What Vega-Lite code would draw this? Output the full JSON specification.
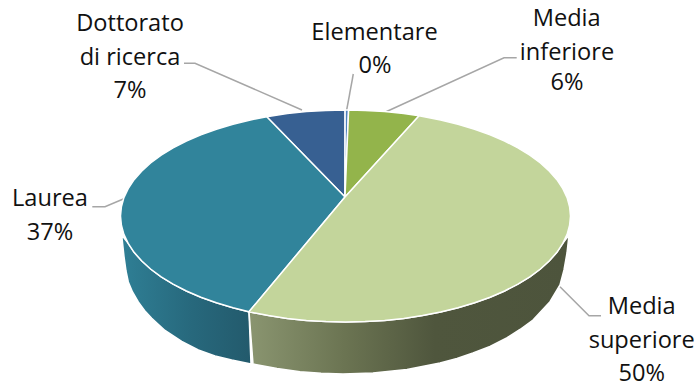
{
  "$schema": "https://vega.github.io/schema/vega-lite/v6.json",
  "width": 695,
  "height": 387,
  "padding": 0,
  "autosize": {"type": "fit", "contains": "padding"},
  "background": "white",
  "config": {"view": {"stroke": null}},
  "datasets": {
    "spicchi": [
      {"categoria":"Dottorato di ricerca","ord":0,"x":0,"y":0},
      {"categoria":"Dottorato di ricerca","ord":1,"x":0.1,"y":87},
      {"categoria":"Dottorato di ricerca","ord":2,"x":-19.1,"y":86.6},
      {"categoria":"Dottorato di ricerca","ord":3,"x":-38.6,"y":85.4},
      {"categoria":"Dottorato di ricerca","ord":4,"x":-57.7,"y":83.4},
      {"categoria":"Dottorato di ricerca","ord":5,"x":-78.3,"y":80.3},
      {"categoria":"Elementare","ord":0,"x":0,"y":0},
      {"categoria":"Elementare","ord":1,"x":3.6,"y":87},
      {"categoria":"Elementare","ord":2,"x":0.1,"y":87},
      {"categoria":"Media inferiore","ord":0,"x":0,"y":0},
      {"categoria":"Media inferiore","ord":1,"x":74.1,"y":81.2},
      {"categoria":"Media inferiore","ord":2,"x":58.7,"y":83.4},
      {"categoria":"Media inferiore","ord":3,"x":39.6,"y":85.4},
      {"categoria":"Media inferiore","ord":4,"x":20.1,"y":86.6},
      {"categoria":"Media inferiore","ord":5,"x":3.6,"y":87},
      {"categoria":"Laurea","ord":0,"x":0,"y":0},
      {"categoria":"Laurea","ord":1,"x":-78.3,"y":80.3},
      {"categoria":"Laurea","ord":2,"x":-94.6,"y":77.1},
      {"categoria":"Laurea","ord":3,"x":-112,"y":72.8},
      {"categoria":"Laurea","ord":4,"x":-128.6,"y":67.8},
      {"categoria":"Laurea","ord":5,"x":-144.1,"y":62.2},
      {"categoria":"Laurea","ord":6,"x":-158.6,"y":56},
      {"categoria":"Laurea","ord":7,"x":-171.9,"y":49.1},
      {"categoria":"Laurea","ord":8,"x":-183.8,"y":41.8},
      {"categoria":"Laurea","ord":9,"x":-194.4,"y":34},
      {"categoria":"Laurea","ord":10,"x":-203.4,"y":25.8},
      {"categoria":"Laurea","ord":11,"x":-210.9,"y":17.3},
      {"categoria":"Laurea","ord":12,"x":-216.8,"y":8.4},
      {"categoria":"Laurea","ord":13,"x":-221.1,"y":-0.6},
      {"categoria":"Laurea","ord":14,"x":-223.6,"y":-9.8},
      {"categoria":"Laurea","ord":15,"x":-224.5,"y":-19},
      {"categoria":"Laurea","ord":16,"x":-223.6,"y":-28.2},
      {"categoria":"Laurea","ord":17,"x":-221.1,"y":-37.4},
      {"categoria":"Laurea","ord":18,"x":-216.8,"y":-46.4},
      {"categoria":"Laurea","ord":19,"x":-210.9,"y":-55.3},
      {"categoria":"Laurea","ord":20,"x":-203.4,"y":-63.8},
      {"categoria":"Laurea","ord":21,"x":-194.4,"y":-72},
      {"categoria":"Laurea","ord":22,"x":-183.8,"y":-79.8},
      {"categoria":"Laurea","ord":23,"x":-171.9,"y":-87.1},
      {"categoria":"Laurea","ord":24,"x":-158.6,"y":-94},
      {"categoria":"Laurea","ord":25,"x":-144.1,"y":-100.2},
      {"categoria":"Laurea","ord":26,"x":-128.6,"y":-105.8},
      {"categoria":"Laurea","ord":27,"x":-112,"y":-110.8},
      {"categoria":"Laurea","ord":28,"x":-96,"y":-114.8},
      {"categoria":"Media superiore","ord":0,"x":0,"y":0},
      {"categoria":"Media superiore","ord":1,"x":-96,"y":-114.8},
      {"categoria":"Media superiore","ord":2,"x":-76.5,"y":-118.6},
      {"categoria":"Media superiore","ord":3,"x":-57.7,"y":-121.4},
      {"categoria":"Media superiore","ord":4,"x":-38.6,"y":-123.4},
      {"categoria":"Media superiore","ord":5,"x":-19.1,"y":-124.6},
      {"categoria":"Media superiore","ord":6,"x":0.5,"y":-125},
      {"categoria":"Media superiore","ord":7,"x":20.1,"y":-124.6},
      {"categoria":"Media superiore","ord":8,"x":39.6,"y":-123.4},
      {"categoria":"Media superiore","ord":9,"x":58.7,"y":-121.4},
      {"categoria":"Media superiore","ord":10,"x":77.5,"y":-118.6},
      {"categoria":"Media superiore","ord":11,"x":95.6,"y":-115.1},
      {"categoria":"Media superiore","ord":12,"x":113,"y":-110.8},
      {"categoria":"Media superiore","ord":13,"x":129.6,"y":-105.8},
      {"categoria":"Media superiore","ord":14,"x":145.1,"y":-100.2},
      {"categoria":"Media superiore","ord":15,"x":159.6,"y":-94},
      {"categoria":"Media superiore","ord":16,"x":172.9,"y":-87.1},
      {"categoria":"Media superiore","ord":17,"x":184.8,"y":-79.8},
      {"categoria":"Media superiore","ord":18,"x":195.4,"y":-72},
      {"categoria":"Media superiore","ord":19,"x":204.4,"y":-63.8},
      {"categoria":"Media superiore","ord":20,"x":211.9,"y":-55.3},
      {"categoria":"Media superiore","ord":21,"x":217.8,"y":-46.4},
      {"categoria":"Media superiore","ord":22,"x":222.1,"y":-37.4},
      {"categoria":"Media superiore","ord":23,"x":224.6,"y":-28.2},
      {"categoria":"Media superiore","ord":24,"x":225.5,"y":-19},
      {"categoria":"Media superiore","ord":25,"x":224.6,"y":-9.8},
      {"categoria":"Media superiore","ord":26,"x":222.1,"y":-0.6},
      {"categoria":"Media superiore","ord":27,"x":217.8,"y":8.4},
      {"categoria":"Media superiore","ord":28,"x":211.9,"y":17.3},
      {"categoria":"Media superiore","ord":29,"x":204.4,"y":25.8},
      {"categoria":"Media superiore","ord":30,"x":195.4,"y":34},
      {"categoria":"Media superiore","ord":31,"x":184.8,"y":41.8},
      {"categoria":"Media superiore","ord":32,"x":172.9,"y":49.1},
      {"categoria":"Media superiore","ord":33,"x":159.6,"y":56},
      {"categoria":"Media superiore","ord":34,"x":145.1,"y":62.2},
      {"categoria":"Media superiore","ord":35,"x":129.6,"y":67.8},
      {"categoria":"Media superiore","ord":36,"x":113,"y":72.8},
      {"categoria":"Media superiore","ord":37,"x":95.6,"y":77.1},
      {"categoria":"Media superiore","ord":38,"x":74.1,"y":81.2}
    ],
    "fiancoLaurea": [
      {"ord":0,"x":-223.3,"y":-38},
      {"ord":1,"x":-216.8,"y":-46.4},
      {"ord":2,"x":-210.9,"y":-55.3},
      {"ord":3,"x":-203.4,"y":-63.8},
      {"ord":4,"x":-194.4,"y":-72},
      {"ord":5,"x":-183.8,"y":-79.8},
      {"ord":6,"x":-171.9,"y":-87.1},
      {"ord":7,"x":-158.6,"y":-94},
      {"ord":8,"x":-144.1,"y":-100.2},
      {"ord":9,"x":-128.6,"y":-105.8},
      {"ord":10,"x":-112,"y":-110.8},
      {"ord":11,"x":-96,"y":-114.8},
      {"ord":12,"x":-94,"y":-167},
      {"ord":13,"x":-113.3,"y":-163},
      {"ord":14,"x":-130,"y":-159},
      {"ord":15,"x":-146.7,"y":-153},
      {"ord":16,"x":-163.3,"y":-144.5},
      {"ord":17,"x":-180,"y":-133.5},
      {"ord":18,"x":-193.3,"y":-121.3},
      {"ord":19,"x":-200.5,"y":-113.5},
      {"ord":20,"x":-206.7,"y":-105},
      {"ord":21,"x":-212.5,"y":-95},
      {"ord":22,"x":-216.7,"y":-85},
      {"ord":23,"x":-219,"y":-74},
      {"ord":24,"x":-221,"y":-59.7}
    ],
    "fiancoSuperiore": [
      {"ord":0,"x":-96,"y":-114.8},
      {"ord":1,"x":-76.5,"y":-118.6},
      {"ord":2,"x":-57.7,"y":-121.4},
      {"ord":3,"x":-38.6,"y":-123.4},
      {"ord":4,"x":-19.1,"y":-124.6},
      {"ord":5,"x":0.5,"y":-125},
      {"ord":6,"x":20.1,"y":-124.6},
      {"ord":7,"x":39.6,"y":-123.4},
      {"ord":8,"x":58.7,"y":-121.4},
      {"ord":9,"x":77.5,"y":-118.6},
      {"ord":10,"x":95.6,"y":-115.1},
      {"ord":11,"x":113,"y":-110.8},
      {"ord":12,"x":129.6,"y":-105.8},
      {"ord":13,"x":145.1,"y":-100.2},
      {"ord":14,"x":159.6,"y":-94},
      {"ord":15,"x":172.9,"y":-87.1},
      {"ord":16,"x":184.8,"y":-79.8},
      {"ord":17,"x":195.4,"y":-72},
      {"ord":18,"x":204.4,"y":-63.8},
      {"ord":19,"x":211.9,"y":-55.3},
      {"ord":20,"x":217.8,"y":-46.4},
      {"ord":21,"x":224,"y":-38},
      {"ord":22,"x":222,"y":-56},
      {"ord":23,"x":219,"y":-73},
      {"ord":24,"x":215,"y":-88},
      {"ord":25,"x":205,"y":-104.7},
      {"ord":26,"x":188,"y":-123},
      {"ord":27,"x":175,"y":-132.5},
      {"ord":28,"x":161.7,"y":-141},
      {"ord":29,"x":145,"y":-149.5},
      {"ord":30,"x":128,"y":-156},
      {"ord":31,"x":112,"y":-161.5},
      {"ord":32,"x":95,"y":-166},
      {"ord":33,"x":62,"y":-172.5},
      {"ord":34,"x":28,"y":-176},
      {"ord":35,"x":-2,"y":-177},
      {"ord":36,"x":-24,"y":-176.3},
      {"ord":37,"x":-45,"y":-174.7},
      {"ord":38,"x":-68,"y":-171.5},
      {"ord":39,"x":-92,"y":-167}
    ],
    "richiami": [
      {"categoria":"Dottorato di ricerca","ord":0,"x":-161,"y":133.7},
      {"categoria":"Dottorato di ricerca","ord":1,"x":-150,"y":133.7},
      {"categoria":"Dottorato di ricerca","ord":2,"x":-43,"y":87},
      {"categoria":"Elementare","ord":0,"x":8.3,"y":123},
      {"categoria":"Elementare","ord":1,"x":1.7,"y":87},
      {"categoria":"Media inferiore","ord":0,"x":171.7,"y":139.3},
      {"categoria":"Media inferiore","ord":1,"x":159,"y":139.3},
      {"categoria":"Media inferiore","ord":2,"x":40,"y":84.7},
      {"categoria":"Laurea","ord":0,"x":-252.7,"y":-9.7},
      {"categoria":"Laurea","ord":1,"x":-240,"y":-9.7},
      {"categoria":"Laurea","ord":2,"x":-221.7,"y":-2},
      {"categoria":"Media superiore","ord":0,"x":256,"y":-118.7},
      {"categoria":"Media superiore","ord":1,"x":244,"y":-118.7},
      {"categoria":"Media superiore","ord":2,"x":215,"y":-89.7}
    ],
    "nomi": [
      {"riga":"Dottorato","x":-215,"y":173},
      {"riga":"di ricerca","x":-215,"y":139.5},
      {"riga":"Elementare","x":29.5,"y":164.5},
      {"riga":"Media","x":221.7,"y":178},
      {"riga":"inferiore","x":222,"y":144.5},
      {"riga":"Laurea","x":-295,"y":-2},
      {"riga":"Media","x":296.7,"y":-110},
      {"riga":"superiore","x":296.7,"y":-143.5}
    ],
    "quote": [
      {"categoria":"Dottorato di ricerca","valore":0.07,"x":-215,"y":106},
      {"categoria":"Elementare","valore":0,"x":30,"y":131},
      {"categoria":"Media inferiore","valore":0.06,"x":222,"y":114},
      {"categoria":"Laurea","valore":0.37,"x":-295,"y":-36},
      {"categoria":"Media superiore","valore":0.5,"x":296.7,"y":-177}
    ]
  },
  "encoding": {
    "x": {"field": "x", "type": "quantitative", "axis": null, "scale": {"domain": [-345, 350], "nice": false, "zero": false}},
    "y": {"field": "y", "type": "quantitative", "axis": null, "scale": {"domain": [-190, 197], "nice": false, "zero": false}}
  },
  "layer": [
    {
      "data": {"name": "fiancoLaurea"},
      "mark": {
        "type": "line", "interpolate": "linear-closed", "stroke": "white", "strokeWidth": 1.5,
        "fill": {"gradient": "linear", "x1": 0, "y1": 0, "x2": 1, "y2": 0,
          "stops": [{"offset": 0, "color": "#2f7f95"}, {"offset": 0.55, "color": "#27687c"}, {"offset": 1, "color": "#235a6c"}]}
      },
      "encoding": {"order": {"field": "ord"}}
    },
    {
      "data": {"name": "fiancoSuperiore"},
      "mark": {
        "type": "line", "interpolate": "linear-closed", "stroke": "white", "strokeWidth": 1.5,
        "fill": {"gradient": "linear", "x1": 0, "y1": 0, "x2": 1, "y2": 0,
          "stops": [{"offset": 0, "color": "#8a9570"}, {"offset": 0.3, "color": "#6b7452"}, {"offset": 0.58, "color": "#4f563d"}, {"offset": 1, "color": "#4d543c"}]}
      },
      "encoding": {"order": {"field": "ord"}}
    },
    {
      "data": {"name": "richiami"},
      "mark": {"type": "line", "stroke": "#a6a6a6", "strokeWidth": 1.5},
      "encoding": {"detail": {"field": "categoria"}, "order": {"field": "ord"}}
    },
    {
      "data": {"name": "spicchi"},
      "mark": {"type": "line", "interpolate": "linear-closed", "stroke": "white", "strokeWidth": 1.5},
      "encoding": {
        "fill": {
          "field": "categoria", "type": "nominal", "legend": null,
          "scale": {
            "domain": ["Elementare", "Media inferiore", "Media superiore", "Laurea", "Dottorato di ricerca"],
            "range": ["#4f81bd", "#93b44b", "#c3d59b", "#31849b", "#376092"]
          }
        },
        "detail": {"field": "categoria"},
        "order": {"field": "ord"}
      }
    },
    {
      "data": {"name": "nomi"},
      "mark": {"type": "text", "font": "Open Sans", "fontSize": 23.6, "color": "#111111", "align": "center", "baseline": "middle"},
      "encoding": {"text": {"field": "riga"}}
    },
    {
      "data": {"name": "quote"},
      "mark": {"type": "text", "font": "Open Sans", "fontSize": 23.6, "color": "#111111", "align": "center", "baseline": "middle"},
      "encoding": {"text": {"field": "valore", "format": ".0%"}}
    }
  ]
}
